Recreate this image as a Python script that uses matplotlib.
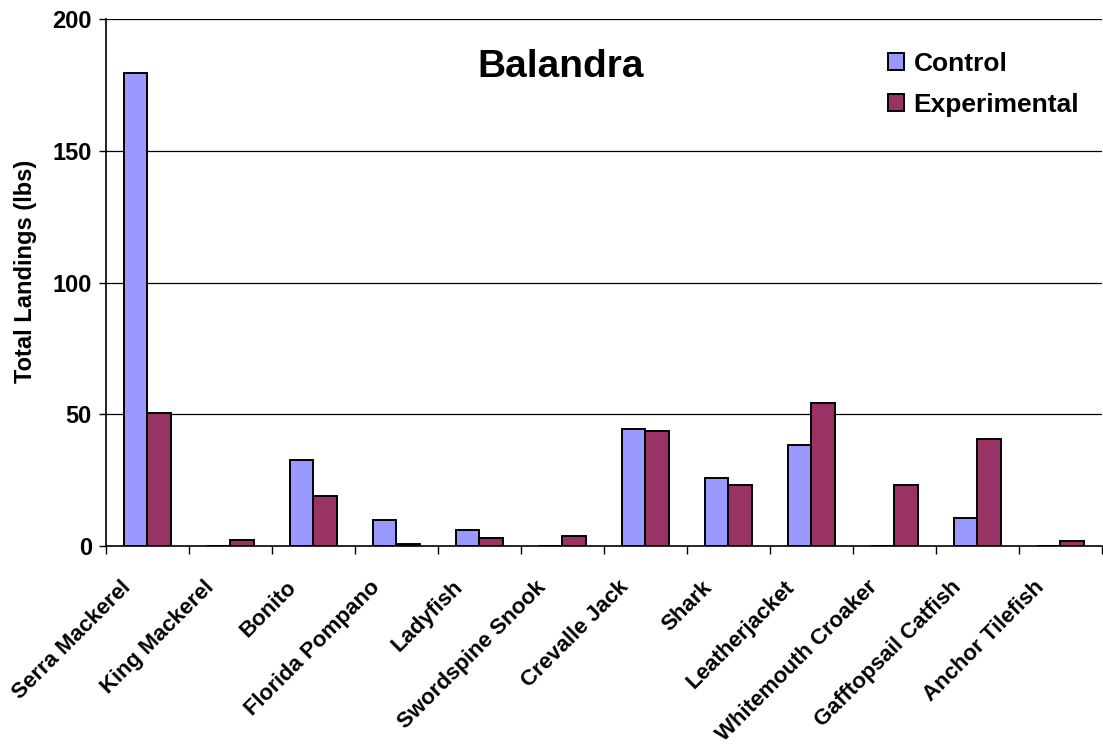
import numpy as np
import matplotlib
matplotlib.use("Agg")
import matplotlib.pyplot as plt
from matplotlib.transforms import ScaledTranslation

# datos (lbs)
species = ["Serra Mackerel", "King Mackerel", "Bonito", "Florida Pompano",
           "Ladyfish", "Swordspine Snook", "Crevalle Jack", "Shark",
           "Leatherjacket", "Whitemouth Croaker", "Gafftopsail Catfish",
           "Anchor Tilefish"]
control = [179.5, 0, 32.7, 9.8, 6.1, 0, 44.6, 25.7, 38.5, 0, 10.5, 0]
experimental = [50.7, 2.3, 19.0, 0.8, 2.9, 3.8, 43.8, 23.3, 54.4, 23.3, 40.8, 2.0]

plt.rcParams.update({
    "font.family": "Liberation Sans", "font.weight": "bold",
})

fig = plt.figure(figsize=(11.03, 7.44), dpi=100)
ax = fig.add_axes([0.096, 0.266, 0.903, 0.708])

x = np.arange(len(species))
w = 0.286
ax.bar(x - w / 2, control, w, color="#9999FF", edgecolor="black",
       linewidth=1.4, label="Control", zorder=3)
ax.bar(x + w / 2, experimental, w, color="#993366", edgecolor="black",
       linewidth=1.4, label="Experimental", zorder=3)

ax.set_xlim(-0.5, len(species) - 0.5)
ax.set_ylim(0, 200)
ax.set_yticks([0, 50, 100, 150, 200])
for yv in [50, 100, 150, 200]:
    ax.axhline(yv, color="black", lw=0.9, zorder=1)

ax.set_xticks(x)
ax.set_xticklabels(species, rotation=45, ha="right", rotation_mode="anchor",
                   fontsize=16, fontweight="bold")
ax.tick_params(axis="x", length=0, pad=22)
off = ScaledTranslation(-27 / 100, 0, fig.dpi_scale_trans)
for lab in ax.get_xticklabels():
    lab.set_transform(lab.get_transform() + off)
ax.set_xticks(np.arange(-0.5, len(species)), minor=True)
ax.tick_params(axis="x", which="minor", length=6, width=1, direction="out")
ax.tick_params(axis="y", labelsize=17, length=5, width=1, direction="out", pad=5)

for s in ["top", "right"]:
    ax.spines[s].set_visible(False)
ax.spines["left"].set_linewidth(1.2)
ax.spines["bottom"].set_linewidth(1.2)

ax.set_ylabel("Total Landings (lbs)", fontsize=17, fontweight="bold")
ax.yaxis.set_label_coords(-0.069, 0.522)
ax.text(0.457, 0.91, "Balandra", transform=ax.transAxes, ha="center",
        va="center", fontsize=28, fontweight="bold")

ax.legend(loc="upper left", bbox_to_anchor=(0.775, 0.958), frameon=False,
          fontsize=19, handlelength=0.6, handleheight=0.6, handletextpad=0.35,
          labelspacing=0.65, borderaxespad=0)

fig.savefig("out.png", dpi=100)
